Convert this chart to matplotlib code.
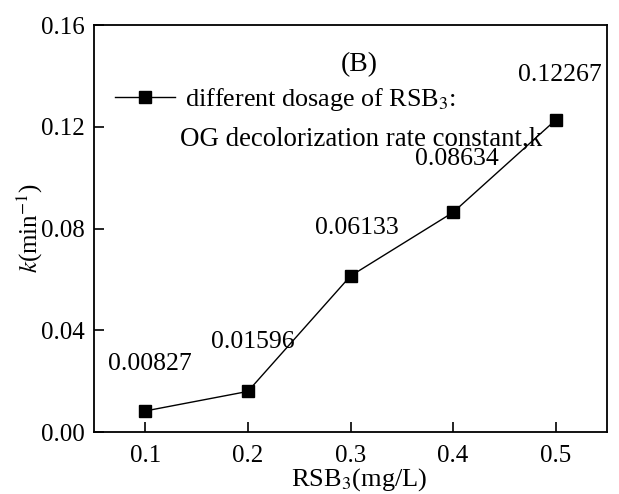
import matplotlib.pyplot as plt

# dosage of RSB3 (mg/L) and decolorization rate constant k (min^-1)
dosage = [0.1, 0.2, 0.3, 0.4, 0.5]
k_values = [0.00827, 0.01596, 0.06133, 0.08634, 0.12267]
k_labels = ["0.00827", "0.01596", "0.06133", "0.08634", "0.12267"]
x_ticks = [0.1, 0.2, 0.3, 0.4, 0.5]
y_ticks = [0.00, 0.04, 0.08, 0.12, 0.16]

plt.rcParams['font.family'] = ['Liberation Serif', 'DejaVu Serif']
plt.rcParams['mathtext.fontset'] = 'stix'

fig = plt.figure(figsize=(6.19, 4.94), dpi=100)
ax = fig.add_axes([94 / 619, 62 / 494, 513 / 619, 407 / 494])

ax.plot(dosage, k_values, color='black', linewidth=1.0, marker='s',
        markersize=8.5, label='different dosage of RSB$_3$:')

# label offsets in pixels, value text above each point
offsets = [(5, 47), (5, 49), (6, 48), (4, 53), (4, 45)]
for x, y, txt, off in zip(dosage, k_values, k_labels, offsets):
    ax.annotate(txt, (x, y), xytext=off, textcoords='offset pixels',
                ha='center', va='center', fontsize=18.5)

ax.set_xlim(0.05, 0.55)
ax.set_ylim(0.0, 0.16)
ax.set_xticks(x_ticks)
ax.set_xticklabels([f"{v:.1f}" for v in x_ticks])
ax.set_yticks(y_ticks)
ax.set_yticklabels([f"{v:.2f}" for v in y_ticks])
ax.tick_params(direction='in', length=7, width=1.2, labelsize=18)
ax.tick_params(axis='x', pad=9)
ax.tick_params(axis='y', pad=7)
for s in ax.spines.values():
    s.set_linewidth(1.3)

ax.set_xlabel('RSB$_3$(mg/L)', fontsize=19)
ax.xaxis.set_label_coords(0.517, -0.084)
ax.set_ylabel('$k$(min$^{-1}$)', fontsize=18, labelpad=-3)

ax.text(0.518, 0.902, '(B)', transform=ax.transAxes, fontsize=20,
        ha='center', va='center')

leg = ax.legend(loc='upper left', bbox_to_anchor=(0.02, 0.875), frameon=False,
                fontsize=18.8, handlelength=2.3, handletextpad=0.4,
                borderaxespad=0)
ax.text(0.168, 0.72, 'OG decolorization rate constant,k', transform=ax.transAxes,
        fontsize=19.4, ha='left', va='center')

fig.savefig('out.png', dpi=100)
